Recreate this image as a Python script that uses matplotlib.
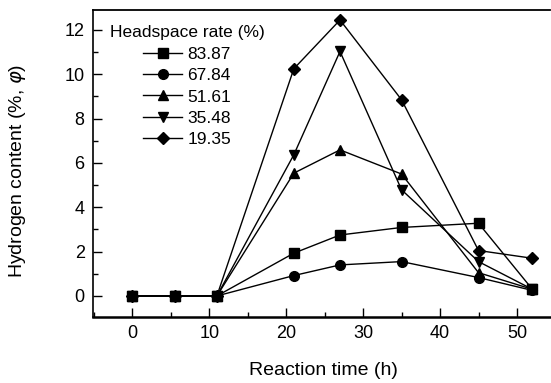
import matplotlib
matplotlib.use("Agg")
import matplotlib.pyplot as plt
from matplotlib.ticker import MultipleLocator

plt.rcParams['font.family'] = ['Liberation Sans', 'DejaVu Sans']
plt.rcParams['mathtext.fontset'] = 'dejavusans'

# reaction time (h)
time_h = [0, 5.5, 11, 21, 27, 35, 45, 52]

# hydrogen content for each headspace rate
rate_labels = ['83.87', '67.84', '51.61', '35.48', '19.35']
h2_8387 = [0, 0, 0, 1.93, 2.75, 3.09, 3.28, 0.30]
h2_6784 = [0, 0, 0, 0.92, 1.40, 1.55, 0.83, 0.25]
h2_5161 = [0, 0, 0, 5.54, 6.59, 5.50, 1.05, 0.30]
h2_3548 = [0, 0, 0, 6.37, 11.03, 4.79, 1.55, 0.30]
h2_1935 = [0, 0, 0, 10.25, 12.45, 8.85, 2.05, 1.70]

series = [h2_8387, h2_6784, h2_5161, h2_3548, h2_1935]
markers = ['s', 'o', '^', 'v', 'D']
msizes = [6.5, 7, 7.5, 7.5, 6.5]

fig = plt.figure(figsize=(5.51, 3.83), dpi=100)
ax = fig.add_axes([0.1688, 0.1723, 0.8295, 0.8016])

for vals, m, ms, lab in zip(series, markers, msizes, rate_labels):
    ax.plot(time_h, vals, color='black', lw=1.0, marker=m, ms=ms,
            mfc='black', mec='black', label=lab)

ax.set_xlim(-5.1, 54.3)
ax.set_ylim(-0.95, 12.9)
ax.xaxis.set_major_locator(MultipleLocator(10))
ax.xaxis.set_minor_locator(MultipleLocator(5))
ax.yaxis.set_major_locator(MultipleLocator(2))
ax.yaxis.set_minor_locator(MultipleLocator(1))
ax.tick_params(which='both', direction='in', labelsize=13, width=1)
ax.tick_params(which='major', length=6.5)
ax.tick_params(which='minor', length=3.5)
ax.tick_params(axis='x', pad=6)
ax.tick_params(axis='y', pad=6)
ax.spines['right'].set_visible(False)
ax.spines['left'].set_linewidth(1.2)
ax.spines['top'].set_linewidth(1.3)
ax.spines['bottom'].set_linewidth(1.8)

ax.set_xlabel('Reaction time (h)', fontsize=14)
ax.set_ylabel('Hydrogen content (%, $\\varphi$)', fontsize=14)
ax.xaxis.set_label_coords(0.505, -0.145)
ax.yaxis.set_label_coords(-0.142, 0.476)

leg = ax.legend(title='Headspace rate (%)', loc='upper left', frameon=False,
                fontsize=12.5, title_fontsize=12.5, handlelength=2.25,
                handletextpad=0.3, labelspacing=0.36, borderpad=0,
                borderaxespad=0, bbox_to_anchor=(0.037, 0.95))

fig.savefig('out.png', dpi=100)
